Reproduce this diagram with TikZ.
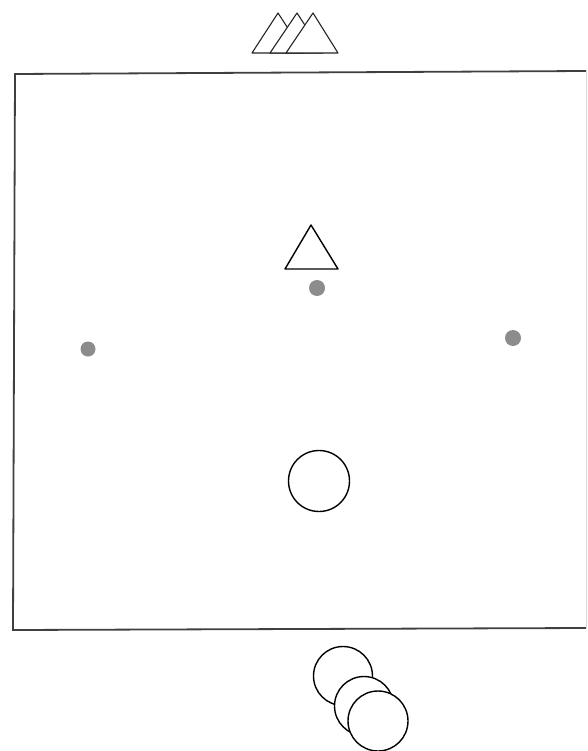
\documentclass[tikz,border=0pt]{standalone}
\begin{document}
\begin{tikzpicture}[x=1pt,y=-1pt,
  outlined/.style={draw=black,fill=white,line width=1.4pt,line join=round},
  thinoutlined/.style={outlined,draw=black!85,line width=1.1pt},
  greydot/.style={fill=black!45,draw=none},
  frameline/.style={draw=black!75,line width=1.8pt}]
\useasboundingbox (0,0) rectangle (587,751);
\fill[white] (0,0) rectangle (587,751);
% frame
\draw[frameline] (586,71) -- (15,74) -- (13,630) -- (586,628);
\draw[draw=black!15,line width=1pt] (586,71) -- (586,628);
% top triangles
\draw[thinoutlined] (252,53) -- (278,13) -- (304,53) -- cycle;
\draw[thinoutlined] (270,53) -- (297,13) -- (323,53) -- cycle;
\draw[thinoutlined] (286,53) -- (313,13) -- (338,53) -- cycle;
% middle triangle
\draw[outlined] (285,269) -- (311,225) -- (338,269) -- cycle;
% dots
\fill[greydot] (317,288) circle (8);
\fill[greydot] (88,349) circle (7.5);
\fill[greydot] (513,338) circle (8);
% big circle
\draw[outlined] (319,481) circle (30.5);
% bottom circles
\draw[outlined] (343,676) circle (29.5);
\draw[outlined] (364,706) circle (29.5);
\draw[outlined] (378,721) circle (30);
\end{tikzpicture}
\end{document}
